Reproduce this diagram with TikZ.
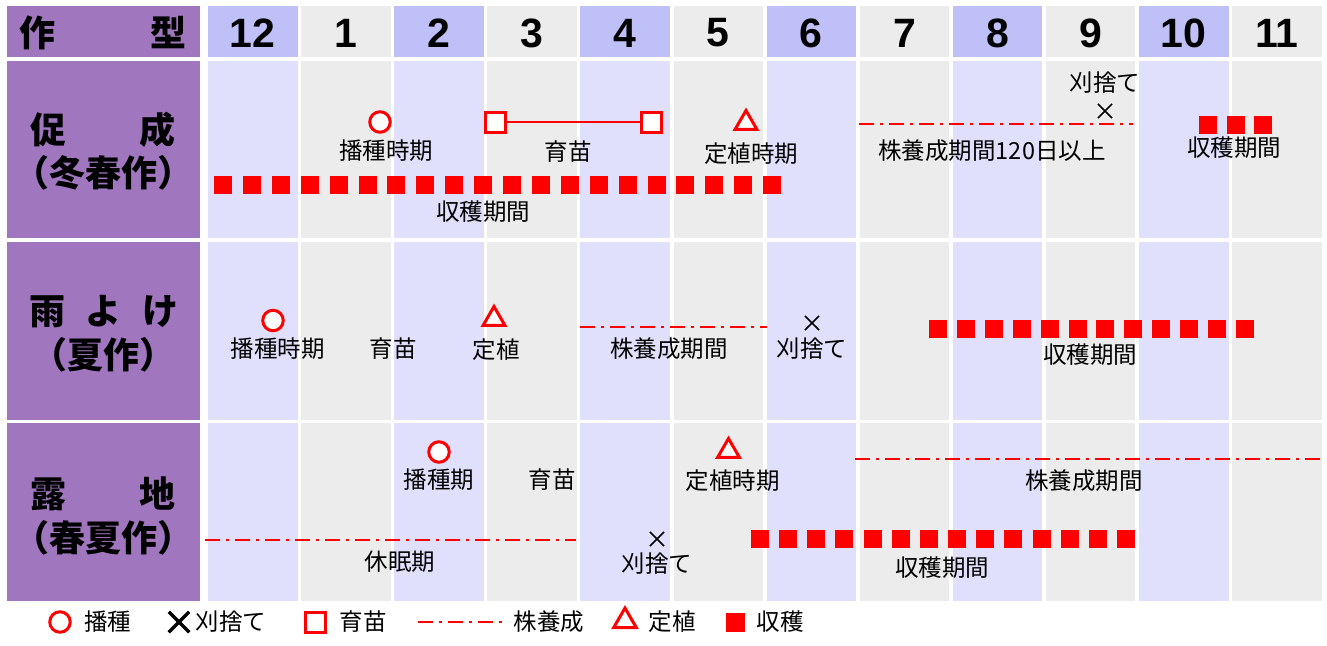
\documentclass[tikz,border=0pt]{standalone}
\usepackage{fontspec}
\setmainfont{Noto Sans CJK JP}
\newfontfamily\numfont{Liberation Sans}
\usetikzlibrary{shapes.geometric,shapes.misc}
\definecolor{purp}{RGB}{160,118,190}
\definecolor{hblue}{RGB}{192,192,248}
\definecolor{bblue}{RGB}{224,224,252}
\definecolor{gry}{RGB}{236,236,236}
\definecolor{rd}{RGB}{255,0,0}

\begin{document}
\begin{tikzpicture}[x=1pt,y=-1pt,
	circ/.style={draw=rd,line width=3pt,circle,fill=white,minimum size=20.5pt,inner sep=0},
	sqr/.style={draw=rd,line width=3pt,rectangle,fill=white,minimum size=20pt,inner sep=0},
	tri/.style={draw=rd,line width=3pt,regular polygon,regular polygon sides=3,fill=white,minimum size=25pt,inner sep=0},
	harv/.style={fill=rd,rectangle,minimum size=18pt,inner sep=0},
	xx/.style={draw=black,line width=1.6pt,cross out,minimum size=12.5pt,inner sep=0},
	stockln/.style={draw=rd,line width=2pt,dash pattern=on 15pt off 6pt on 3pt off 6pt},
	lbl/.style={inner sep=0,font=\fontsize{23.5}{26}\selectfont},
	mon/.style={inner sep=0,font=\numfont\bfseries\fontsize{41}{41}\selectfont},
	kind/.style={inner sep=0,font=\bfseries\fontsize{36}{36}\selectfont}]
\useasboundingbox (0,0) rectangle (1327,645);
\fill[purp] (7,6) rectangle (200,57);
\foreach \ya/\yb in {61/238,242/420,423/601}
	\fill[purp] (7,\ya) rectangle (200,\yb);
\foreach \i in {0,2,...,10} {
	\fill[hblue] ({208+93.1*\i},6) rectangle ({297.5+93.1*\i},57);
	\foreach \ya/\yb in {61/238,242/420,423/601}
		\fill[bblue] ({208+93.1*\i},\ya) rectangle ({297.5+93.1*\i},\yb);
}
\foreach \i in {1,3,...,11} {
	\fill[gry] ({208+93.1*\i},6) rectangle ({297.5+93.1*\i},57);
	\foreach \ya/\yb in {61/238,242/420,423/601}
		\fill[gry] ({208+93.1*\i},\ya) rectangle ({297.5+93.1*\i},\yb);
}
\foreach \m [count=\i from 0] in {12,1,2,3,4,5,6,7,8,9,10,11}
	\node[mon] (m\m) at ({252.75+93.1*\i},33) {\m};

\node[kind] (hdr) at (103,33) {\makebox[168pt]{作\hfill 型}};
\node[kind] (k1a) at (103,130) {\makebox[145pt]{促\hfill 成}};
\node[kind] (k1b) at (103,173) {（冬春作）};
\node[kind] (k2a) at (104,312) {\makebox[150pt]{雨\hfill よ\hfill け}};
\node[kind] (k2b) at (103,355) {（夏作）};
\node[kind] (k3a) at (103,494) {\makebox[145pt]{露\hfill 地}};
\node[kind] (k3b) at (103,538) {（春夏作）};

\node[circ] (aso) at (380,122) {};
\node[lbl] (asoL) at (386,151) {播種時期};
\node[sqr] (ans1) at (495,122) {};
\node[sqr] (ans2) at (651,122) {};
\draw[rd,line width=2.2pt] (ans1) -- (ans2);
\node[lbl] (ansL) at (568,152) {育苗};
\node[tri] (ate) at (746,123) {};
\node[lbl] (ateL) at (751,154) {定植時期};
\coordinate (ag1) at (859,124);
\coordinate (ag2) at (1133,124);
\draw[stockln] (ag1) -- (ag2);
\node[xx] (acut) at (1105,111) {};
\node[lbl] (acutL) at (1105,83) {刈捨て};
\node[lbl] (agL) at (992,151) {株養成期間120日以上};
\foreach \k in {0,1,2}
	\node[harv] (ah\k) at ({1208+27.5*\k},125) {};
\node[lbl] (ahL) at (1234,148) {収穫期間};
\foreach \k in {0,...,19}
	\node[harv] (aH\k) at ({223+28.9*\k},185) {};
\node[lbl] (aHL) at (483,212) {収穫期間};

\node[circ] (bso) at (273,320.5) {};
\node[lbl] (bsoL) at (277.5,349) {播種時期};
\node[lbl] (bnsL) at (393,349) {育苗};
\node[tri] (bte) at (494,319) {};
\node[lbl] (bteL) at (496,350) {定植};
\coordinate (bg1) at (580,326.5);
\coordinate (bg2) at (767,326.5);
\draw[stockln] (bg1) -- (bg2);
\node[lbl] (bgL) at (669,349) {株養成期間};
\node[xx] (bcut) at (812,323) {};
\node[lbl] (bcutL) at (812,349) {刈捨て};
\foreach \k in {0,...,11}
	\node[harv] (bH\k) at ({938+27.9*\k},329) {};
\node[lbl] (bHL) at (1090,355) {収穫期間};

\node[circ] (cso) at (439,452) {};
\node[lbl] (csoL) at (439,480) {播種期};
\node[lbl] (cnsL) at (552,480) {育苗};
\node[tri] (cte) at (728.5,451) {};
\node[lbl] (cteL) at (732.5,481) {定植時期};
\coordinate (cg1) at (855,459);
\coordinate (cg2) at (1320,459);
\draw[stockln] (cg1) -- (cg2);
\node[lbl] (cgL) at (1084,481) {株養成期間};
\coordinate (cd1) at (205,539.5);
\coordinate (cd2) at (576,539.5);
\draw[stockln] (cd1) -- (cd2);
\node[lbl] (cdL) at (400,562) {休眠期};
\node[xx] (ccut) at (657,539) {};
\node[lbl] (ccutL) at (657,564) {刈捨て};
\foreach \k in {0,...,13}
	\node[harv] (cH\k) at ({760+28.15*\k},539) {};
\node[lbl] (cHL) at (942,568) {収穫期間};

\node[circ] (lso) at (60,622) {};
\node[lbl] (lsoL) at (107.5,622) {播種};
\node[xx,line width=3.5pt,minimum size=17pt] (lcut) at (179,622) {};
\node[lbl] (lcutL) at (231,622) {刈捨て};
\node[sqr] (lns) at (315,622) {};
\node[lbl] (lnsL) at (363,622) {育苗};
\coordinate (lg1) at (418,622);
\coordinate (lg2) at (502,622);
\draw[stockln] (lg1) -- (lg2);
\node[lbl] (lgL) at (549,622) {株養成};
\node[tri,minimum size=26pt] (lte) at (625,621) {};
\node[lbl] (lteL) at (672,622) {定植};
\node[harv,minimum size=19pt] (lH) at (735.5,622) {};
\node[lbl] (lHL) at (780,622) {収穫};
\end{tikzpicture}
\end{document}
